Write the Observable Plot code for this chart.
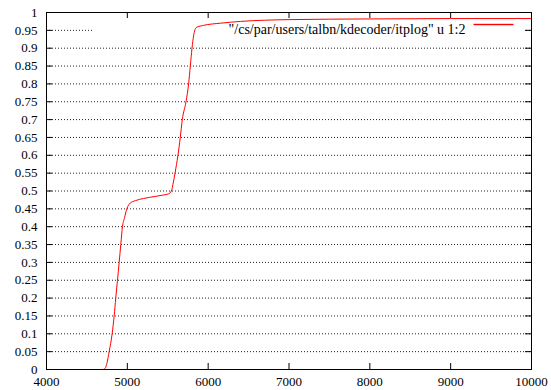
<!DOCTYPE html>
<html>
<head>
<meta charset="utf-8">
<script src="https://cdn.jsdelivr.net/npm/d3@7"></script>
<script src="https://cdn.jsdelivr.net/npm/@observablehq/plot@0.6"></script>
<style>
  html, body { margin: 0; padding: 0; background: white; }
</style>
</head>
<body>
<div id="chart"></div>
<script>
// Series
const xs = [4000, 4700, 4725, 4750, 4775, 4812, 4837, 4857, 4878, 4899, 4919, 4940, 4965, 4994, 5035, 5100, 5200, 5350, 5450, 5510, 5545, 5570, 5590, 5626, 5655, 5680, 5726, 5758, 5779, 5800, 5820, 5853, 5944, 6150, 6400, 7000, 8000, 9000, 10000];
const ys = [0, 0, 0.003, 0.02, 0.05, 0.1, 0.15, 0.2, 0.25, 0.3, 0.35, 0.4, 0.425, 0.45, 0.466, 0.473, 0.479, 0.485, 0.489, 0.492, 0.5, 0.525, 0.55, 0.6, 0.65, 0.7, 0.75, 0.8, 0.85, 0.9, 0.935, 0.958, 0.964, 0.97, 0.975, 0.98, 0.982, 0.983, 0.983];

const xTicks = [4000, 5000, 6000, 7000, 8000, 9000, 10000];
const yTicks = [0, 0.05, 0.1, 0.15, 0.2, 0.25, 0.3, 0.35, 0.4, 0.45, 0.5, 0.55, 0.6, 0.65, 0.7, 0.75, 0.8, 0.85, 0.9, 0.95, 1];
const gridTicks = [0.05, 0.1, 0.15, 0.2, 0.25, 0.3, 0.35, 0.4, 0.45, 0.5, 0.55, 0.6, 0.65, 0.7, 0.75, 0.8, 0.85, 0.9, 0.95];
const seriesLabel = "\"/cs/par/users/talbn/kdecoder/itplog\" u 1:2";

const data = xs.map((x, i) => ({x, y: ys[i]}));

const W = 551, H = 390;
const mL = 46, mR = 20, mT = 12, mB = 21;
const pW = W - mL - mR, pH = H - mT - mB;
const tick = 6;

const chart = Plot.plot({
  width: W,
  height: H,
  marginLeft: mL,
  marginRight: mR,
  marginTop: mT,
  marginBottom: mB,
  style: "font-family: 'Liberation Serif', serif; font-size: 13px; background: white;",
  x: {domain: [4000, 10000]},
  y: {domain: [0, 1]},
  marks: [
    Plot.ruleY(gridTicks, {stroke: "#222", strokeDasharray: "1,2", strokeWidth: 1}),
    // legend background
    Plot.frame({fill: "white", stroke: null, insetLeft: 47, insetRight: 7, insetTop: 5, insetBottom: pH - 20}),
    Plot.line(data, {x: "x", y: "y", stroke: "red", strokeWidth: 1, curve: "monotone-x"}),
    // legend
    Plot.text([seriesLabel], {text: d => d, frameAnchor: "top-right", textAnchor: "end", dx: -66, dy: 11.5, fontSize: 14, fill: "black"}),
    Plot.frame({fill: "red", stroke: null, insetLeft: 427, insetRight: 18, insetTop: 11.3, insetBottom: pH - 12.7}),
    Plot.frame({stroke: "black", strokeWidth: 1}),
    // inward ticks
    Plot.ruleX(xTicks, {stroke: "black", insetTop: pH - tick}),
    Plot.ruleX(xTicks, {stroke: "black", insetBottom: pH - tick}),
    Plot.ruleY(yTicks, {stroke: "black", insetRight: pW - tick}),
    Plot.ruleY(yTicks, {stroke: "black", insetLeft: pW - tick}),
    Plot.axisX(xTicks, {tickSize: 0, tickPadding: 7, label: null, fontSize: 13, tickFormat: d => String(d)}),
    Plot.axisY(yTicks, {tickSize: 0, tickPadding: 9, label: null, fontSize: 13, tickFormat: d => String(d)})
  ]
});
chart.querySelectorAll("text").forEach(t => { t.style.fontFamily = "'Liberation Serif', serif"; });
chart.querySelectorAll("g").forEach(g => { if (g.getAttribute("font-family")) g.setAttribute("font-family", "Liberation Serif, serif"); });
document.getElementById("chart").appendChild(chart);
</script>
</body>
</html>
